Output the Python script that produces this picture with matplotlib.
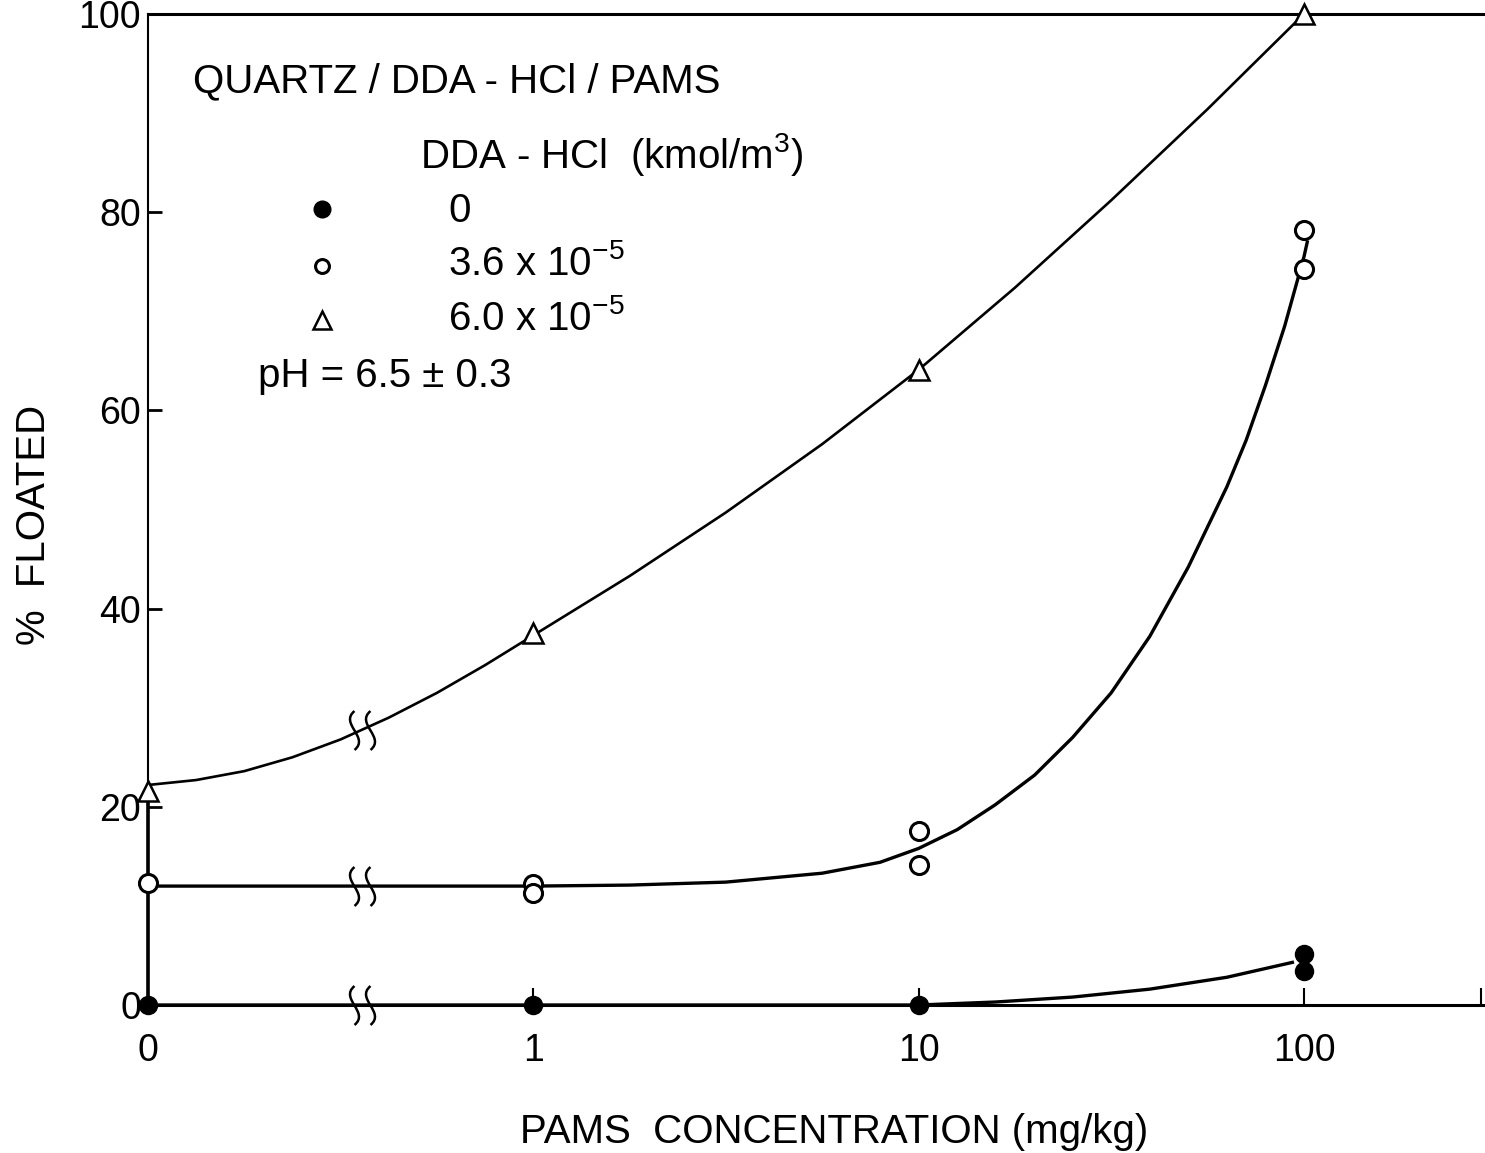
"""Quartz / DDA-HCl / PAMS flotation: % floated vs PAMS dose."""

import numpy as np
import matplotlib

matplotlib.use("Agg")
import matplotlib.pyplot as plt
from matplotlib.path import Path

plt.rcParams["font.family"] = ["Liberation Sans", "DejaVu Sans"]
plt.rcParams["mathtext.fontset"] = "custom"
plt.rcParams["mathtext.rm"] = "Liberation Sans"
plt.rcParams["mathtext.it"] = "Liberation Sans:italic"
plt.rcParams["mathtext.bf"] = "Liberation Sans:bold"

# measured points (PAMS dose in mg/kg, % floated)
dose_none = [0, 1, 10, 100, 100]
float_none = [0.0, 0.0, 0.0, 5.1, 3.4]
dose_low = [0, 1, 1, 10, 10, 100, 100]
float_low = [12.3, 12.2, 11.3, 17.6, 14.1, 78.2, 74.3]
dose_high = [0, 1, 10, 100]
float_high = [21.6, 37.5, 64.1, 100.0]

# hand drawn trend curves
curve_none_x = [0, 1, 10, 15.8, 25.1, 39.8, 63.1, 93.3]
curve_none_y = [0.0, 0.0, 0.0, 0.3, 0.8, 1.6, 2.8, 4.3]
curve_low_x = [0, 0.5, 1, 1.78, 3.16, 5.62, 7.94, 10, 12.6, 15.8, 20, 25.1,
               31.6, 39.8, 50.1, 63.1, 70.8, 79.4, 89.1, 100, 102]
curve_low_y = [12.0, 12.0, 12.0, 12.1, 12.4, 13.3, 14.4, 15.8, 17.7, 20.2,
               23.2, 27.0, 31.5, 37.2, 44.2, 52.3, 57.0, 62.5, 68.5, 75.5, 77.0]
curve_high_x = [0, 0.125, 0.25, 0.375, 0.5, 0.625, 0.75, 0.875, 1, 1.78,
                3.16, 5.62, 10, 17.8, 31.6, 56.2, 100]
curve_high_y = [22.2, 22.7, 23.6, 25.0, 26.8, 29.0, 31.5, 34.3, 37.3, 43.3,
                49.7, 56.6, 64.1, 72.4, 81.2, 90.4, 100.0]

x_ticks = [0, 1, 10, 100]
x_ticklabels = ["0", "1", "10", "100"]
y_ticks = [0, 20, 40, 60, 80, 100]
legend_labels = ["0", "3.6 x 10$^{-5}$", "6.0 x 10$^{-5}$"]


def fwd(c):
    # linear 0..1 (broken axis), then one unit per decade
    c = np.asarray(c, dtype=float)
    return np.where(c <= 1, c, 1 + np.log10(np.maximum(c, 1)))


def inv(p):
    p = np.asarray(p, dtype=float)
    return np.where(p <= 1, p, 10 ** (p - 1))


# little S squiggle for the axis break
squiggle = Path([(0, -1), (0.8, -0.35), (-0.8, 0.35), (0, 1)],
                [Path.MOVETO, Path.CURVE4, Path.CURVE4, Path.CURVE4])

FS = 29
TICK_FS = 27

fig = plt.figure(figsize=(14.85, 11.53), dpi=100)
ax = fig.add_axes([148 / 1485, 148 / 1153, 1 - 148 / 1485, (1139 - 148) / 1153])
ax.set_xscale("function", functions=(fwd, inv))
ax.set_xlim(0, 295)
ax.set_ylim(0, 100)

ax.spines["right"].set_visible(False)
ax.spines["top"].set_linewidth(2.2)
ax.spines["bottom"].set_linewidth(2.2)
ax.spines["left"].set_linewidth(1.5)

# curves
ax.plot(curve_none_x, curve_none_y, color="black", lw=2.4, clip_on=False,
        zorder=3, solid_joinstyle="round")
ax.plot(curve_low_x, curve_low_y, color="black", lw=2.4, clip_on=False,
        zorder=3, solid_joinstyle="round")
ax.plot(curve_high_x, curve_high_y, color="black", lw=1.9, clip_on=False,
        zorder=3, solid_joinstyle="round")
ax.plot([0, 0], [0, float_high[0]], color="black", lw=2.6, clip_on=False, zorder=3)

# axis-break squiggles on each curve
for cx, cy in [(curve_none_x, curve_none_y), (curve_low_x, curve_low_y),
               (curve_high_x, curve_high_y)]:
    yb = np.interp(0.555, fwd(cx), cy)
    ax.plot([0.535, 0.575], [yb, yb], ls="none", marker=squiggle, ms=28,
            mfc="none", mec="black", mew=1.8, zorder=4, clip_on=False)

# data points
ax.plot(dose_none, float_none, ls="none", marker="o", ms=13, color="black",
        clip_on=False, zorder=5)
ax.plot(dose_low, float_low, ls="none", marker="o", ms=13, mfc="white",
        mec="black", mew=2.2, clip_on=False, zorder=5)
ax.plot(dose_high, float_high, ls="none", marker="^", ms=15, mfc="white",
        mec="black", mew=1.8, clip_on=False, zorder=5)

# ticks
ax.set_xticks(x_ticks)
ax.set_xticklabels(x_ticklabels)
ax.xaxis.set_minor_locator(matplotlib.ticker.FixedLocator([288]))
ax.set_yticks(y_ticks)
ax.yaxis.set_minor_locator(matplotlib.ticker.NullLocator())
ax.tick_params(axis="x", which="both", direction="in", length=12, width=1.5,
               pad=20, labelsize=TICK_FS)
ax.tick_params(axis="y", direction="in", length=10, width=2, pad=5,
               labelsize=TICK_FS)

ax.set_xlabel("PAMS  CONCENTRATION (mg/kg)", fontsize=FS)
ax.set_ylabel("%  FLOATED", fontsize=FS)
ax.xaxis.set_label_coords((834 - 148) / 1337, -(1113 - 1005) / 991)
ax.yaxis.set_label_coords(-(148 - 53) / 1337, (1005 - 525) / 991)


def axpt(px, py):
    return (px - 148) / 1337, (1005 - py) / 991


ax.text(*axpt(193, 92), "QUARTZ / DDA - HCl / PAMS", fontsize=FS,
        transform=ax.transAxes, va="baseline")
ax.text(*axpt(420, 168), "DDA - HCl  (kmol/m$^{3}$)", fontsize=FS,
        transform=ax.transAxes, va="baseline")

legend_markers = [
    dict(marker="o", ms=12, color="black"),
    dict(marker="o", ms=10, mfc="white", mec="black", mew=2.2),
    dict(marker="^", ms=13, mfc="white", mec="black", mew=1.8),
]
marker_py = [209, 266, 320]
label_py = [222, 275, 330]
for lab, mk, mpy, lpy in zip(legend_labels, legend_markers, marker_py, label_py):
    mx, my = axpt(322, mpy)
    ax.plot([mx], [my], transform=ax.transAxes, ls="none", **mk)
    ax.text(*axpt(448, lpy), lab, fontsize=FS, transform=ax.transAxes,
            va="baseline")

ax.text(*axpt(258, 387), "pH = 6.5 ± 0.3", fontsize=FS,
        transform=ax.transAxes, va="baseline")

fig.savefig("out.png", dpi=100)
plt.close(fig)
